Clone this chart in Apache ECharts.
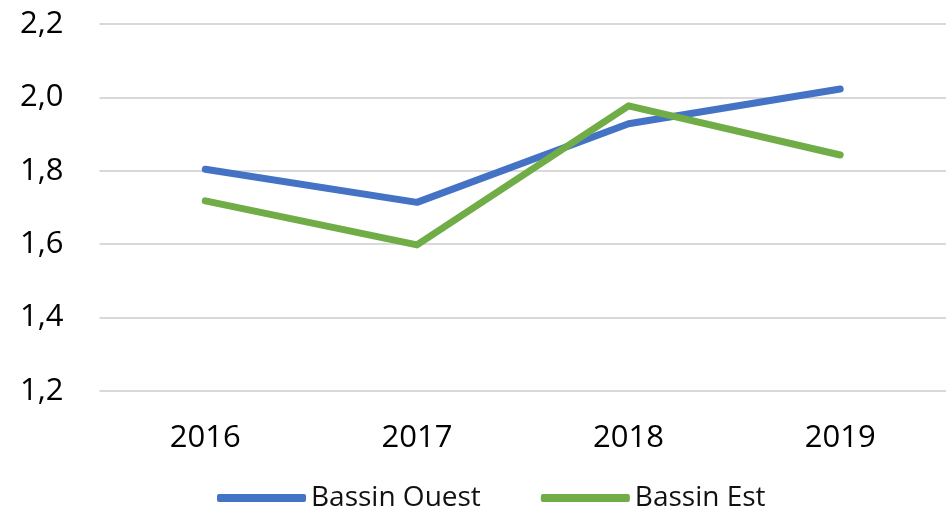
<!DOCTYPE html>
<html>
<head>
<meta charset="utf-8">
<script src="https://cdn.jsdelivr.net/npm/echarts@6/dist/echarts.min.js"></script>
<style>
html,body{margin:0;padding:0;background:#fff;}
#c{width:946px;height:509px;}
</style>
</head>
<body>
<div id="c"></div>
<script>
const categories = ['2016', '2017', '2018', '2019'];
const bassinOuest = [1.804, 1.714, 1.928, 2.023];
const bassinEst = [1.718, 1.598, 1.977, 1.843];
const yTicks = { min: 1.2, max: 2.2, interval: 0.2 };

const chart = echarts.init(document.getElementById('c'));
const font = '"Open Sans", "Noto Sans", sans-serif';
chart.setOption({
  animation: false,
  backgroundColor: '#fff',
  grid: { left: 99.5, top: 24, width: 860, height: 367, containLabel: false },
  legend: {
    data: ['Bassin Ouest', 'Bassin Est'],
    left: 212,
    top: 476,
    itemWidth: 89,
    itemHeight: 8,
    itemGap: 60,
    itemTextGap: 2,
    icon: 'roundRect',
    textStyle: { fontFamily: font, fontSize: 28, color: '#111', lineHeight: 34 }
  },
  xAxis: {
    type: 'category',
    data: categories,
    boundaryGap: true,
    axisLine: { show: false },
    axisTick: { show: false },
    axisLabel: { fontFamily: font, fontSize: 31, color: '#000', margin: 31, lineHeight: 32 }
  },
  yAxis: {
    type: 'value',
    min: yTicks.min,
    max: yTicks.max,
    interval: yTicks.interval,
    axisLine: { show: false },
    axisTick: { show: false },
    splitLine: { lineStyle: { color: '#d9d9d9', width: 2 } },
    axisLabel: {
      fontFamily: font, fontSize: 31, color: '#000', margin: 36,
      formatter: v => v.toFixed(1).replace('.', ',')
    }
  },
  series: [
    {
      name: 'Bassin Ouest', type: 'line', data: bassinOuest,
      symbol: 'none', color: '#4472C4',
      lineStyle: { width: 7, color: '#4472C4', cap: 'round', join: 'round' }
    },
    {
      name: 'Bassin Est', type: 'line', data: bassinEst,
      symbol: 'none', color: '#70AD47',
      lineStyle: { width: 7, color: '#70AD47', cap: 'round', join: 'round' }
    }
  ]
});
</script>
</body>
</html>
